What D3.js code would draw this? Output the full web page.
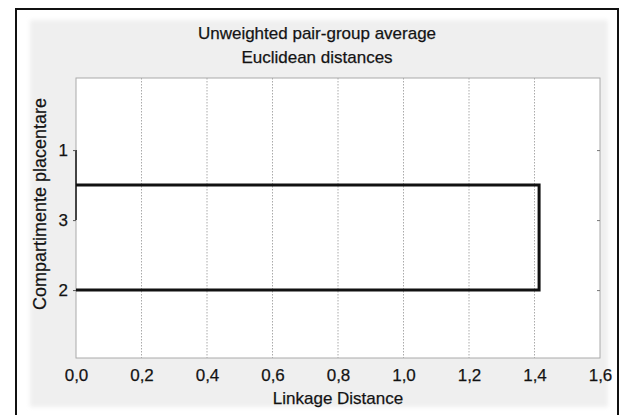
<!DOCTYPE html>
<html>
<head>
<meta charset="utf-8">
<script src="https://cdn.jsdelivr.net/npm/d3@7"></script>
<style>
  body { margin: 0; background: #fff; }
  svg { display: block; font-family: "Liberation Sans", Arial, sans-serif; }
  svg text { stroke: #222; stroke-width: 0.25px; }
</style>
</head>
<body>
<div id="chart"></div>
<script>
// leaves in dendrogram order (top to bottom)
const leafLabels = ['1', '3', '2'];
// joins: left child, right child, linkage distance
const joinLeft = ['1', 'C1'];
const joinRight = ['3', '2'];
const joinDist = [0.0, 1.414];
const xTicks = [0, 0.2, 0.4, 0.6, 0.8, 1.0, 1.2, 1.4, 1.6];

const W = 626, H = 415;
const margin = { top: 78, right: 26, bottom: 57, left: 76 };
const width = W - margin.left - margin.right;
const height = H - margin.top - margin.bottom;

const svg = d3.select('#chart').append('svg')
  .attr('width', W)
  .attr('height', H);

// soft grey panel + outer frame
const defs = svg.append('defs');
defs.append('filter').attr('id', 'soft')
  .append('feGaussianBlur').attr('stdDeviation', 2);
svg.append('rect')
  .attr('x', 30).attr('y', 20).attr('width', 578).attr('height', 387)
  .attr('fill', '#efefef')
  .attr('filter', 'url(#soft)');
svg.append('rect')
  .attr('x', 16).attr('y', 9).attr('width', 602).attr('height', 412)
  .attr('fill', 'none').attr('stroke', '#111').attr('stroke-width', 2);

const g = svg.append('g')
  .attr('transform', 'translate(' + margin.left + ',' + margin.top + ')');

const x = d3.scaleLinear().domain([0, 1.6]).range([0, width]);
const y = d3.scaleLinear().domain([-1.03, 2.97]).range([0, height]);

g.append('rect')
  .attr('width', width).attr('height', height)
  .attr('fill', '#fff').attr('stroke', '#aaa').attr('stroke-width', 1);

// dotted vertical grid
g.selectAll('.grid')
  .data(xTicks.slice(1, -1))
  .enter().append('line')
  .attr('class', 'grid')
  .attr('x1', d => x(d)).attr('x2', d => x(d))
  .attr('y1', 0).attr('y2', height)
  .attr('stroke', '#aaa')
  .attr('stroke-dasharray', '1.5,1.5');

// node positions
const nodes = {};
leafLabels.forEach((l, i) => { nodes[l] = { y: i, d: 0 }; });
const paths = [];
joinLeft.forEach((a, i) => {
  const b = joinRight[i], d = joinDist[i];
  const na = nodes[a], nb = nodes[b];
  paths.push([[na.d, na.y], [d, na.y], [d, nb.y], [nb.d, nb.y]]);
  nodes['C' + (i + 1)] = { y: (na.y + nb.y) / 2, d: d };
});

const line = d3.line().x(p => x(p[0])).y(p => y(p[1]));
g.selectAll('.link')
  .data(paths)
  .enter().append('path')
  .attr('class', 'link')
  .attr('d', line)
  .attr('fill', 'none')
  .attr('stroke', (d, i) => i === 0 ? '#444' : '#111')
  .attr('stroke-width', (d, i) => i === 0 ? 2 : 3);

// x axis
const fmt = v => d3.format('.1f')(v).replace('.', ',');
const xAxis = g.append('g')
  .attr('transform', 'translate(0,' + height + ')')
  .call(d3.axisBottom(x).tickValues(xTicks).tickFormat(fmt).tickSize(0).tickPadding(11));
xAxis.select('.domain').remove();
xAxis.selectAll('text')
  .style('font-size', '17px')
  .style('font-family', '"Liberation Sans", Arial, sans-serif')
  .attr('fill', '#111');

// left axis with leaf labels
const yAxis = g.append('g')
  .call(d3.axisLeft(y).tickValues(d3.range(leafLabels.length))
    .tickFormat(i => leafLabels[i]).tickSize(3).tickPadding(5));
yAxis.select('.domain').remove();
yAxis.selectAll('line').attr('stroke', '#555');
yAxis.selectAll('text')
  .style('font-size', '17px')
  .style('font-family', '"Liberation Sans", Arial, sans-serif')
  .attr('fill', '#111');

// right axis ticks (inward)
const rAxis = g.append('g')
  .attr('transform', 'translate(' + width + ',0)')
  .call(d3.axisLeft(y).tickValues(d3.range(leafLabels.length))
    .tickFormat('').tickSize(3));
rAxis.select('.domain').remove();
rAxis.selectAll('line').attr('stroke', '#777');

// titles
svg.append('text')
  .attr('x', 317).attr('y', 39)
  .attr('text-anchor', 'middle')
  .style('font-size', '17px')
  .attr('fill', '#111')
  .text('Unweighted pair-group average');
svg.append('text')
  .attr('x', 317).attr('y', 63)
  .attr('text-anchor', 'middle')
  .style('font-size', '17px')
  .attr('fill', '#111')
  .text('Euclidean distances');

svg.append('text')
  .attr('x', margin.left + width / 2).attr('y', 404)
  .attr('text-anchor', 'middle')
  .style('font-size', '17px')
  .attr('fill', '#111')
  .text('Linkage Distance');

svg.append('text')
  .attr('transform', 'rotate(-90)')
  .attr('x', -204).attr('y', 46)
  .attr('text-anchor', 'middle')
  .style('font-size', '18px')
  .attr('fill', '#111')
  .text('Compartimente placentare');
</script>
</body>
</html>
